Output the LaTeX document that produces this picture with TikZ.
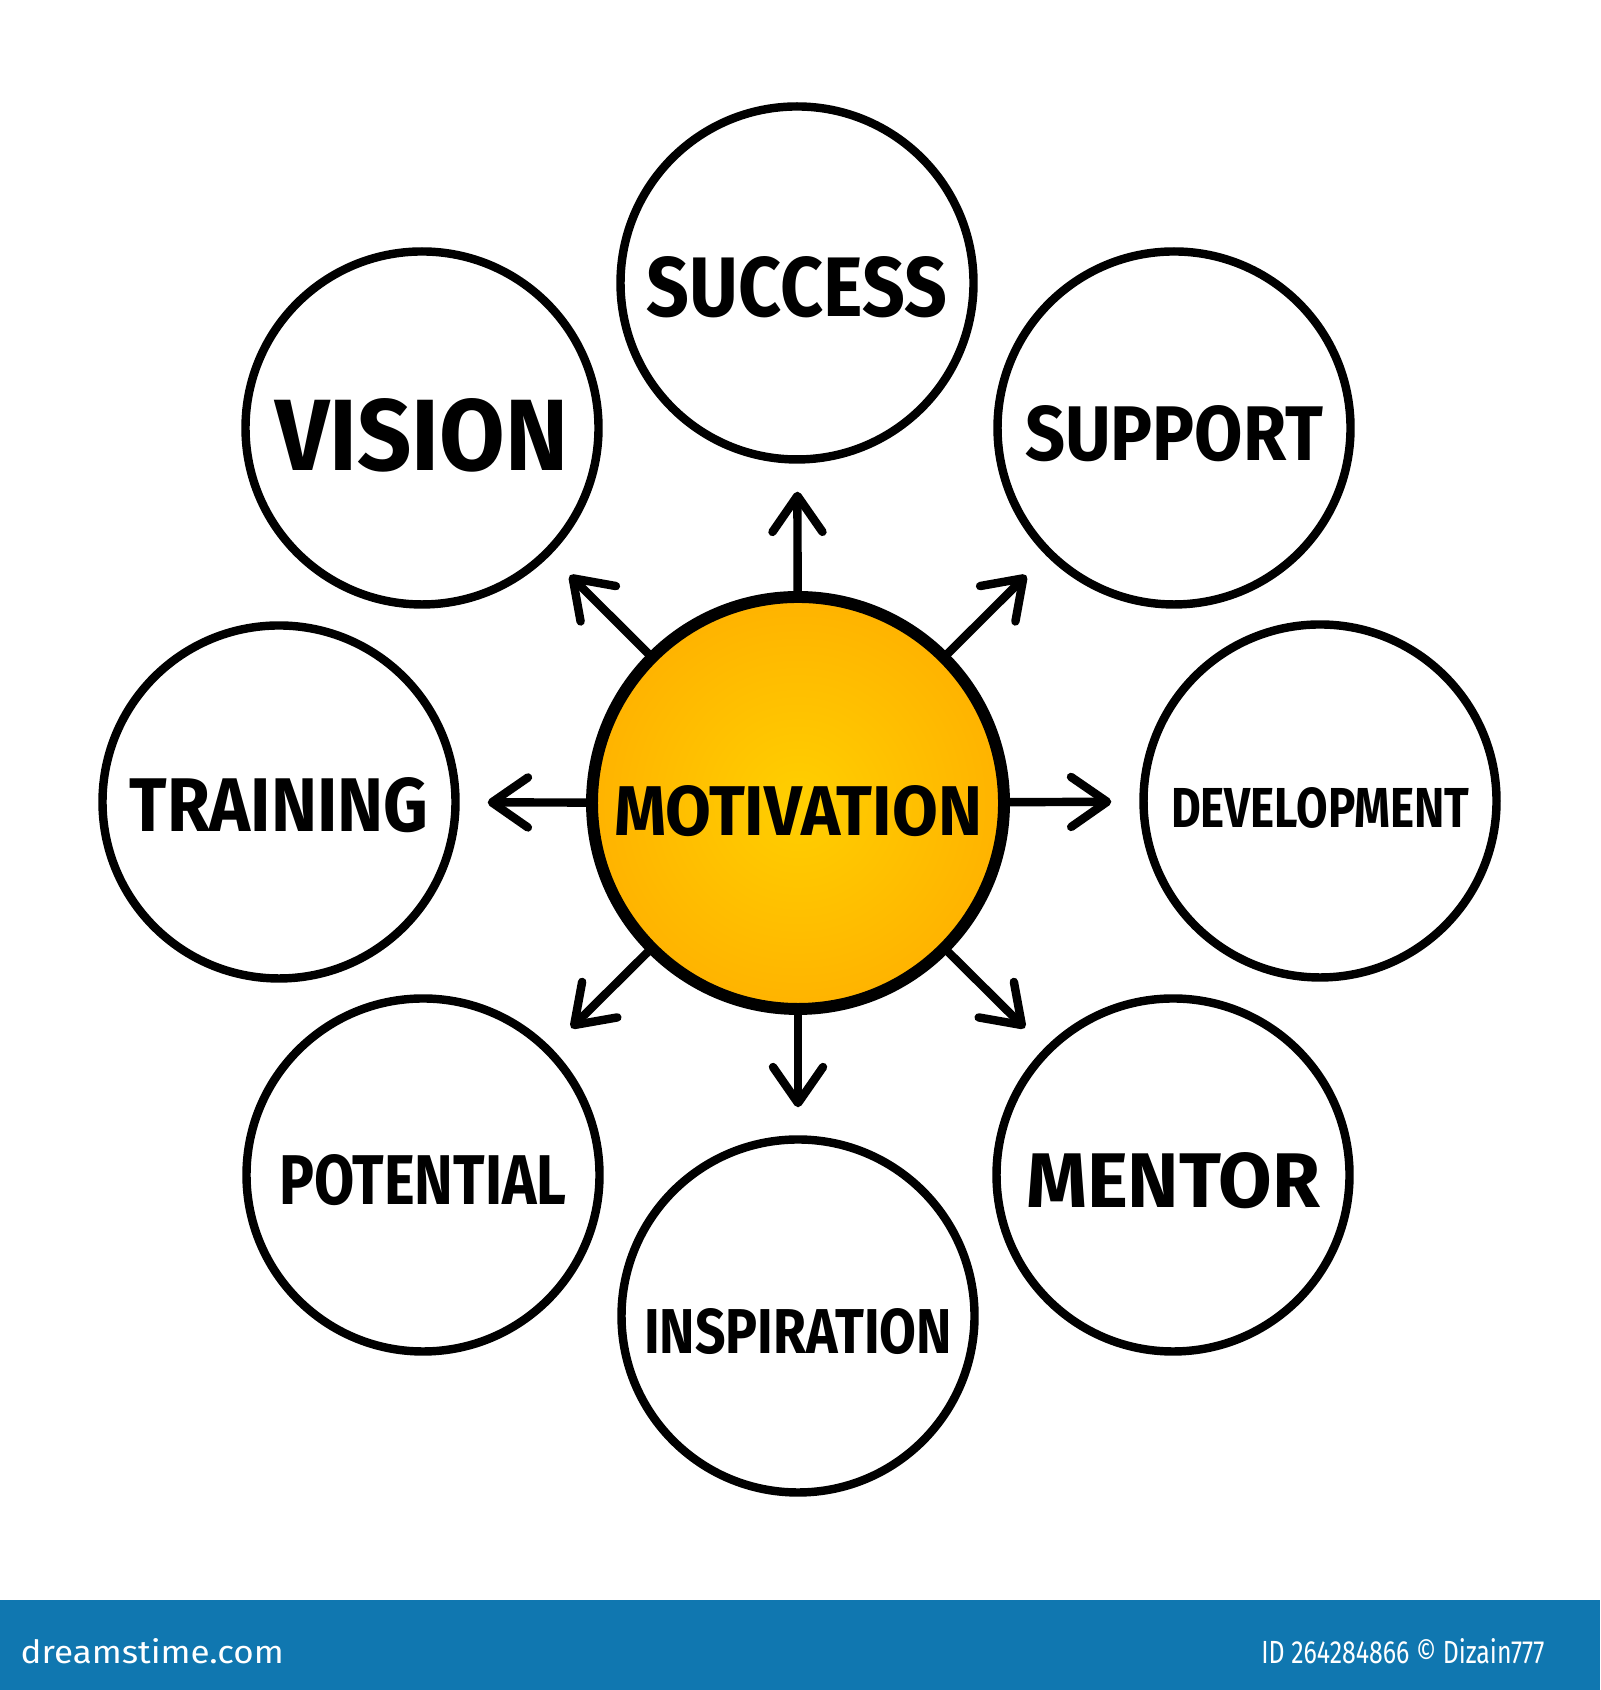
\documentclass[tikz,border=0pt]{standalone}
\usepackage{fontspec}
\setmainfont{Fira Sans}
\usepackage{xcolor}
\definecolor{hubIn}{HTML}{FFCF00}
\definecolor{hubMid}{HTML}{FFB400}
\definecolor{hubOut}{HTML}{FA9600}
\definecolor{barBlue}{HTML}{1077B0}
\usepackage{tikz}
\usetikzlibrary{arrows.meta}
\pgfdeclareradialshading{hubglow}{\pgfpoint{0bp}{0bp}}{color(0bp)=(hubIn); color(24bp)=(hubMid); color(48bp)=(hubOut); color(72bp)=(hubOut)}
% word squeezed to width x cap height, dropped a little below the centre
\newcommand{\lbl}[4][0.06cm]{\raisebox{0pt}[\dimexpr#3+#1*2\relax][0pt]{\resizebox{#2}{#3}{#4}}}

\begin{document}
\begin{tikzpicture}[
	ring/.style={circle, draw=black, line width=2.4pt, fill=white,
		minimum size=3.53cm, inner sep=0pt, font=\bfseries},
	hub/.style={circle, draw=black, line width=3.4pt, shading=hubglow,
		minimum size=4.12cm, inner sep=0pt, font=\bfseries},
	arrow/.style={-{Straight Barb[length=3.6mm, width=5mm, round]}, line width=2.4pt,
		line cap=round, shorten >=0.28cm}
	]
	\useasboundingbox (0,0) rectangle (16,16.9);
	\fill[barBlue] (0,0) rectangle (16,0.9);

	\node[hub] (mot) at (7.98,8.87) {\lbl[0.08cm]{3.68cm}{0.50cm}{MOTIVATION}};

	\node[ring] (suc) at (7.97,14.07) {\lbl[0.04cm]{3.00cm}{0.60cm}{SUCCESS}};
	\node[ring] (vis) at (4.22,12.62) {\lbl[0.07cm]{2.93cm}{0.72cm}{VISION}};
	\node[ring] (sup) at (11.74,12.62) {\lbl[0.05cm]{2.98cm}{0.55cm}{SUPPORT}};
	\node[ring] (tra) at (2.79,8.88) {\lbl[0.03cm]{2.99cm}{0.54cm}{TRAINING}};
	\node[ring] (dev) at (13.20,8.89) {\lbl[0.07cm]{2.98cm}{0.40cm}{DEVELOPMENT}};
	\node[ring] (pot) at (4.23,5.15) {\lbl[0.05cm]{2.87cm}{0.50cm}{POTENTIAL}};
	\node[ring] (men) at (11.73,5.15) {\lbl[0.05cm]{2.94cm}{0.55cm}{MENTOR}};
	\node[ring] (ins) at (7.98,3.74) {\lbl[0.15cm]{3.08cm}{0.45cm}{INSPIRATION}};

	\draw[arrow] (mot) -- (suc);
	\draw[arrow] (mot) -- (sup);
	\draw[arrow] (mot) -- (dev);
	\draw[arrow] (mot) -- (men);
	\draw[arrow] (mot) -- (ins);
	\draw[arrow] (mot) -- (pot);
	\draw[arrow] (mot) -- (tra);
	\draw[arrow] (mot) -- (vis);

	\node[text=white, anchor=west, inner sep=0pt] (site) at (0.20,0.39)
		{\resizebox{2.63cm}{0.25cm}{dreamstime.com}};
	\node[text=white, anchor=east, inner sep=0pt] (credit) at (15.45,0.39)
		{\resizebox{2.83cm}{0.25cm}{ID 264284866 © Dizain777}};
\end{tikzpicture}
\end{document}
